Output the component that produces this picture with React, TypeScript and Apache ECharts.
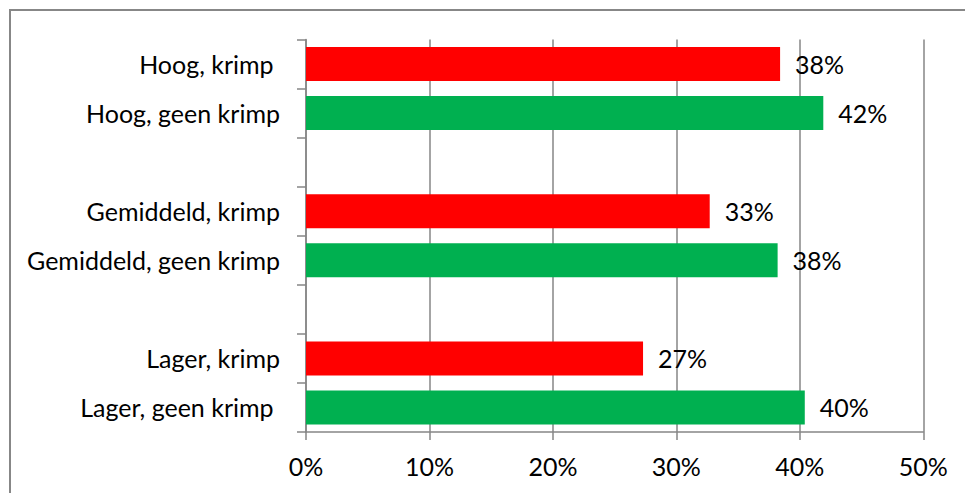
import React, { useEffect, useRef } from "react";
import * as echarts from "echarts";

const categories = [
  "Hoog, krimp ",
  "Hoog, geen krimp",
  " ",
  "Gemiddeld, krimp",
  "Gemiddeld, geen krimp",
  "  ",
  "Lager, krimp",
  "Lager, geen krimp ",
];
const krimp = [38.4, null, null, 32.7, null, null, 27.3, null];
const geenKrimp = [null, 41.9, null, null, 38.2, null, null, 40.4];
const xTicks = [0, 10, 20, 30, 40, 50];

const FONT = "Lato";
const FS = 25;

export default function App() {
  const ref = useRef<HTMLDivElement>(null);
  useEffect(() => {
    if (!ref.current) return;
    const chart = echarts.init(ref.current, null, { renderer: "svg" });
    const label = {
      show: true,
      position: "right" as const,
      distance: 15,
      color: "#000",
      fontFamily: FONT,
      fontSize: FS,
      formatter: (p: any) => Math.round(p.value) + "%",
    };
    chart.setOption({
      animation: false,
      graphic: [
        {
          type: "rect",
          shape: { x: 10, y: 10, width: 1000, height: 600 },
          style: { fill: "none", stroke: "#878787", lineWidth: 2 },
          silent: true,
        },
      ],
      grid: { left: 306, right: 41.7, top: 39.5, bottom: 61, containLabel: false },
      xAxis: {
        type: "value",
        min: xTicks[0],
        max: xTicks[xTicks.length - 1],
        interval: 10,
        axisLine: { show: true, lineStyle: { color: "#868686", width: 1.5 } },
        axisTick: { show: true, length: 8, lineStyle: { color: "#868686", width: 1.5 } },
        splitLine: { show: true, lineStyle: { color: "#868686", width: 1.5 } },
        axisLabel: {
          formatter: "{value}%",
          color: "#000",
          fontFamily: FONT,
          fontSize: FS,
          margin: 21,
        },
      },
      yAxis: {
        type: "category",
        inverse: true,
        data: categories,
        axisLine: { show: true, lineStyle: { color: "#868686", width: 1.5 } },
        axisTick: { show: true, length: 9, alignWithLabel: false, lineStyle: { color: "#868686", width: 1.5 } },
        splitLine: { show: false },
        axisLabel: {
          color: "#000",
          fontFamily: FONT,
          fontSize: FS,
          margin: 26,
          interval: 0,
        },
      },
      series: [
        {
          type: "bar",
          data: krimp,
          barWidth: 34,
          barGap: "-100%",
          itemStyle: { color: "#FF0000" },
          label,
        },
        {
          type: "bar",
          data: geenKrimp,
          barWidth: 34,
          barGap: "-100%",
          itemStyle: { color: "#00B050" },
          label,
        },
      ],
    });
    return () => chart.dispose();
  }, []);
  return (
    <div
      ref={ref}
      style={{ position: "absolute", left: 0, top: 0, width: 965, height: 493, background: "#fff" }}
    />
  );
}
